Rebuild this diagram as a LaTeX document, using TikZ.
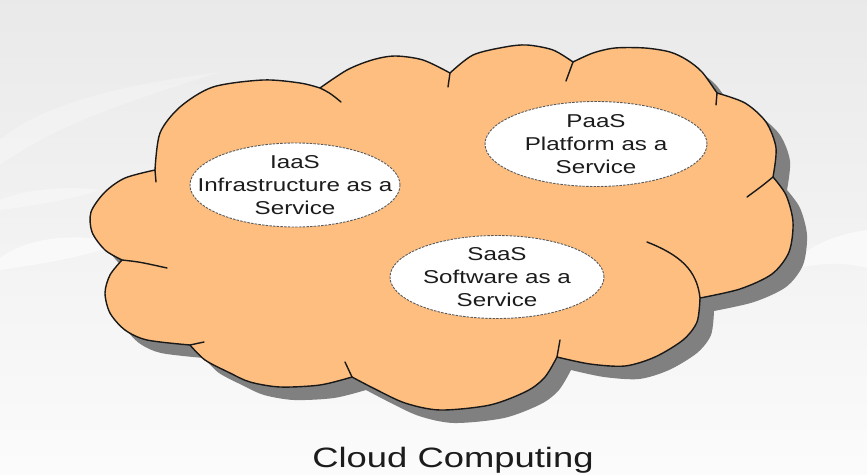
\documentclass[tikz,border=0pt]{standalone}
\usepackage{fontspec}
\setmainfont{Liberation Sans}[FakeStretch=1.3]
\usetikzlibrary{shapes.geometric}
\definecolor{cloudfill}{RGB}{253,190,128}
\definecolor{shadowgray}{RGB}{128,128,128}
\definecolor{rim}{RGB}{90,90,90}
\definecolor{inktext}{RGB}{28,28,28}
\def\cloudpath{(155,170)
 -- plot[smooth] coordinates {(155,170) (160,133) (180,107) (213,87) (263,80) (300,83) (320,88)}
 -- plot[smooth] coordinates {(320,88) (347,70) (372,60) (395,56) (423,60) (450,73)}
 -- plot[smooth] coordinates {(450,73) (473,55) (505,47) (527,45) (553,50) (573,62)}
 -- plot[smooth] coordinates {(573,62) (593,53) (615,48) (645,48) (670,52) (687,60) (702,72) (717,93)}
 -- plot[smooth] coordinates {(717,93) (745,103) (766,122) (776,148) (773,177)}
 -- plot[smooth] coordinates {(773,177) (786,195) (793,222) (789,252) (772,274) (740,289) (700,298)}
 -- plot[smooth] coordinates {(700,298) (697,322) (683,340) (655,357) (625,366) (590,364) (557,357)}
 -- plot[smooth] coordinates {(557,357) (545,377) (527,391) (490,405) (440,410) (405,403) (375,389) (352,377)}
 -- plot[smooth] coordinates {(352,377) (320,385) (280,387) (250,382) (230,373) (205,360) (190,345)}
 -- plot[smooth] coordinates {(190,345) (147,340) (125,330) (110,313) (105,293) (110,275) (122,260)}
 -- plot[smooth] coordinates {(122,260) (105,250) (92,232) (91,212) (105,192) (125,178) (155,170)}
 -- cycle}
\begin{document}
\begin{tikzpicture}[x=1pt,y=-1pt,
  bubble/.style={ellipse, fill=white, draw=rim, line width=0.9pt,
    dash pattern=on 2.5pt off 1.2pt, inner sep=0pt},
  bubbletext/.style={align=center, inner sep=0pt, text=inktext,
    font=\fontsize{18.6}{23}\selectfont},
  outline/.style={draw=black!90, line width=1.4pt, line join=round, line cap=round},
  tail/.style={draw=black!90, line width=1.4pt, line cap=round},
  titletext/.style={font=\fontsize{28}{32}\selectfont, text=inktext, inner sep=0pt}]
\useasboundingbox (0,0) rectangle (867,474);
% background
\shade[top color=gray!17, bottom color=gray!3] (0,0) rectangle (867,474);
\fill[white, opacity=0.55] (0,258) .. controls (30,236) and (80,232) .. (120,244)
  .. controls (80,258) and (40,264) .. (0,270) -- cycle;
\fill[white, opacity=0.35] (0,200) .. controls (30,188) and (70,186) .. (100,190)
  .. controls (70,200) and (30,206) .. (0,210) -- cycle;
\fill[white, opacity=0.55] (867,230) .. controls (830,235) and (800,250) .. (790,270)
  .. controls (820,262) and (845,262) .. (867,268) -- cycle;
\fill[white, opacity=0.25] (0,140) .. controls (40,105) and (120,85) .. (220,72)
  .. controls (140,98) and (60,122) .. (0,165) -- cycle;
% shadow
\begin{scope}[shift={(14,13)}]
  \fill[shadowgray] \cloudpath;
\end{scope}
% cloud
\fill[cloudfill] \cloudpath;
\path[outline] \cloudpath;
% inner tails
\coordinate (j1) at (155,170);  \coordinate (t1) at (156,182);
\coordinate (j2) at (320,88);   \coordinate (t2) at (341,102);
\coordinate (j3) at (450,73);   \coordinate (t3) at (448,87);
\coordinate (j4) at (573,62);   \coordinate (t4) at (566,81);
\coordinate (j5) at (717,93);   \coordinate (t5) at (716,105);
\coordinate (j6) at (773,177);  \coordinate (t6) at (747,197);
\coordinate (j7) at (700,298);  \coordinate (t7) at (647,242);
\coordinate (j8) at (557,357);  \coordinate (t8) at (560,340);
\coordinate (j9) at (352,377);  \coordinate (t9) at (345,362);
\coordinate (j10) at (190,345); \coordinate (t10) at (204,342);
\coordinate (j11) at (122,260); \coordinate (t11) at (167,268);
\draw[tail] (j1) -- (t1);
\draw[tail] (j2) .. controls (330,93) .. (t2);
\draw[tail] (j3) -- (t3);
\draw[tail] (j4) -- (t4);
\draw[tail] (j5) -- (t5);
\draw[tail] (j6) .. controls (762,186) .. (t6);
\draw[tail] (j7) .. controls (697,270) and (680,255) .. (t7);
\draw[tail] (j8) -- (t8);
\draw[tail] (j9) -- (t9);
\draw[tail] (j10) -- (t10);
\draw[tail] (j11) .. controls (140,262) .. (t11);
% ellipses
\node[bubble, minimum width=210pt, minimum height=84pt] (iaas) at (295,185) {};
\node[bubble, minimum width=222pt, minimum height=85pt] (paas) at (596,144) {};
\node[bubble, minimum width=214pt, minimum height=83pt] (saas) at (497,277) {};
\node[bubbletext] (iaastext) at (iaas.center) {IaaS\\Infrastructure as a\\Service};
\node[bubbletext] (paastext) at (paas.center) {PaaS\\Platform as a\\Service};
\node[bubbletext] (saastext) at (saas.center) {SaaS\\Software as a\\Service};
% title
\node[titletext, anchor=base] (title) at (453,467) {Cloud Computing};
\end{tikzpicture}
\end{document}
